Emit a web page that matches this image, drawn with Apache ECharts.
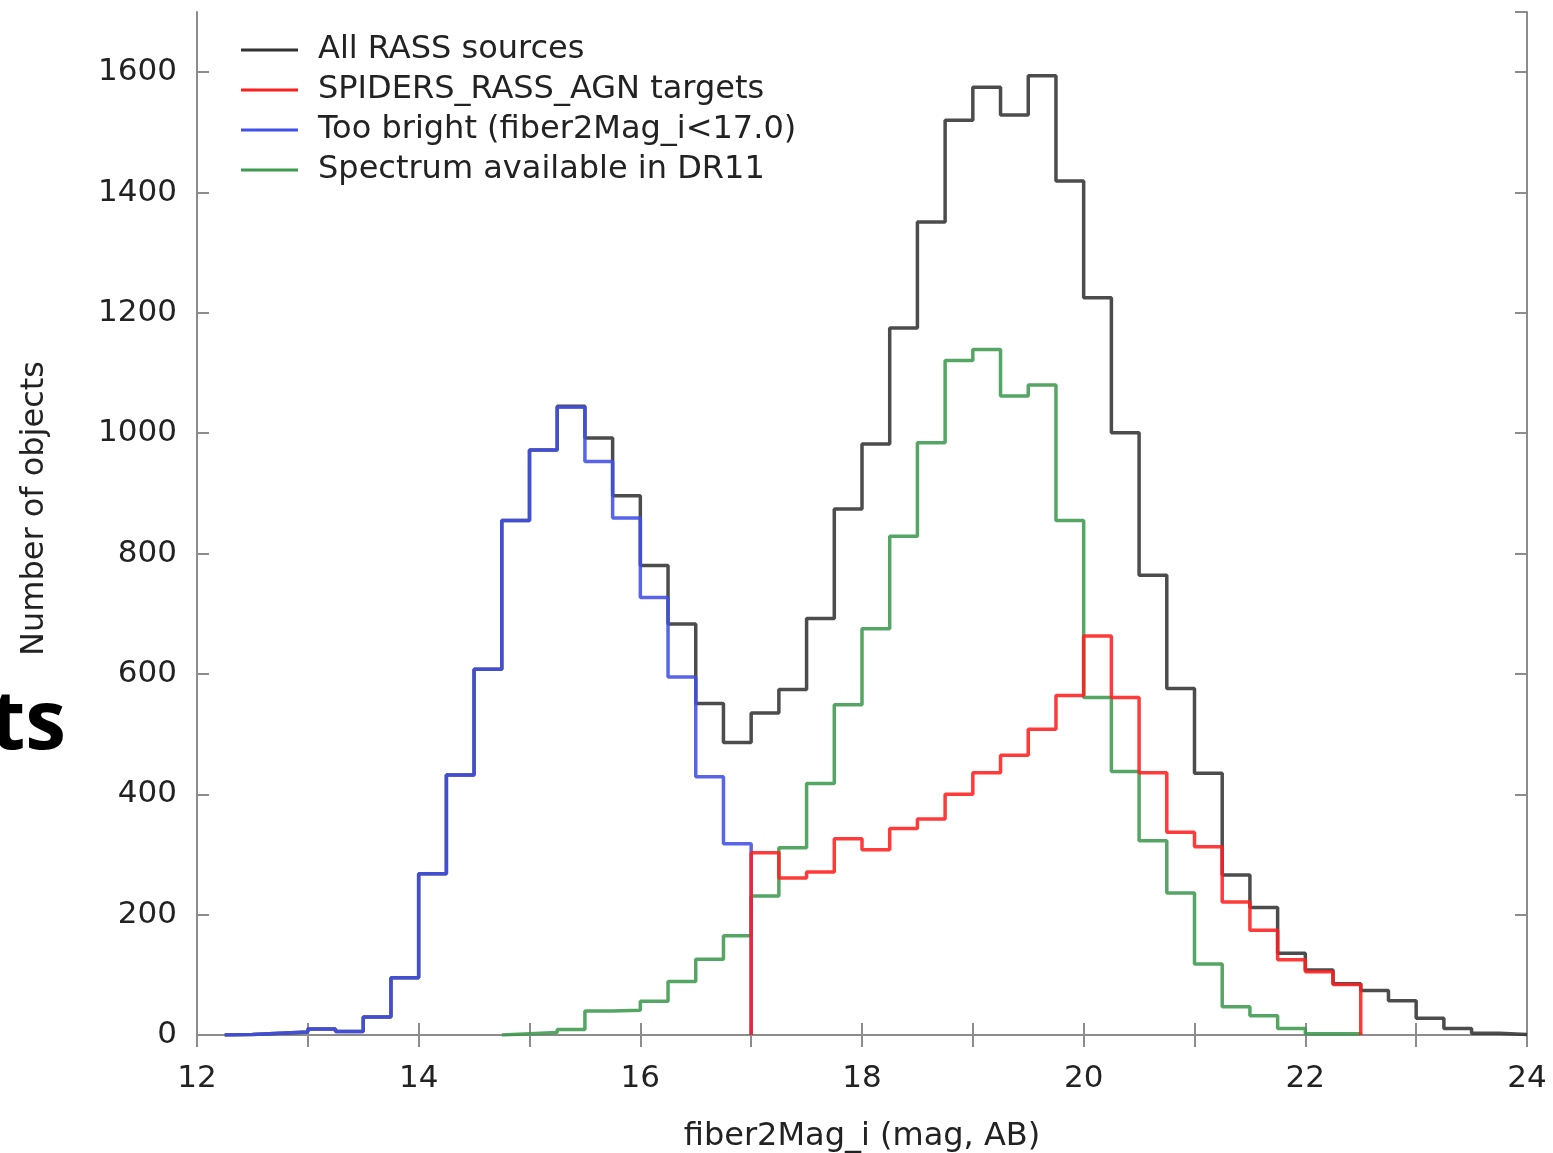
<!DOCTYPE html>
<html>
<head>
<meta charset="utf-8">
<title>fiber2Mag_i histogram</title>
<script src="https://cdn.jsdelivr.net/npm/echarts@6/dist/echarts.min.js"></script>
<style>
  html, body { margin: 0; padding: 0; background: #fff; }
  #chart { width: 1553px; height: 1153px; }
</style>
</head>
<body>
<div id="chart"></div>
<script>
// histogram bins are 0.25 mag wide, counts listed from the left edge given by *Start
const BIN = 0.25;

const allRassStart = 12.25;
const allRass = [1, 3, 5, 10, 6, 30, 95, 268, 432, 608, 855, 972, 1045, 992, 896, 780, 683, 551, 486,
  535, 574, 692, 874, 982, 1175, 1351, 1520, 1575, 1529, 1594, 1419, 1225, 1001, 764, 576, 435, 266,
  212, 136, 108, 85, 74, 57, 28, 11, 3, 1];

const spidersStart = 17.0;
const spiders = [303, 261, 271, 326, 308, 343, 359, 400, 436, 465, 508, 564, 663, 561, 436, 337, 313,
  221, 174, 125, 105, 84];

const tooBrightStart = 12.25;
const tooBright = [1, 3, 5, 10, 6, 30, 95, 268, 432, 608, 855, 972, 1043, 953, 859, 727, 595, 429, 318];

const dr11Start = 14.75;
const dr11 = [2, 4, 9, 40, 41, 56, 89, 126, 165, 231, 311, 418, 549, 675, 829, 984, 1121, 1139, 1062,
  1080, 855, 561, 438, 323, 236, 118, 47, 32, 11, 2, 2];

const seriesNames = [
  'All RASS sources',
  'SPIDERS_RASS_AGN targets',
  'Too bright (fiber2Mag_i<17.0)',
  'Spectrum available in DR11'
];

// bin edges -> points for a step line that starts and ends on zero
function stepPoints(start, counts) {
  const pts = [[start, 0]];
  counts.forEach((c, i) => pts.push([start + i * BIN, c]));
  pts.push([start + counts.length * BIN, 0]);
  return pts;
}

function histSeries(name, start, counts, color, z) {
  return {
    name: name,
    type: 'line',
    step: 'end',
    symbol: 'none',
    data: stepPoints(start, counts),
    itemStyle: { color: color },
    lineStyle: { color: color, width: 3.5, opacity: 0.88 },
    z: z
  };
}

const FONT = 'DejaVu Sans';
const frame = { show: true, lineStyle: { color: '#8c8c8c', width: 2 } };
const ticks = { show: true, inside: true, length: 12, lineStyle: { color: '#8c8c8c', width: 2 } };

const chart = echarts.init(document.getElementById('chart'));
chart.setOption({
  animation: false,
  backgroundColor: '#fff',
  grid: { left: 197, right: 26, top: 12, bottom: 118, outerBoundsMode: 'none' },
  legend: {
    orient: 'vertical',
    left: 236,
    top: 29,
    icon: 'rect',
    itemWidth: 57,
    itemHeight: 3,
    itemGap: 8,
    data: seriesNames,
    textStyle: { fontFamily: FONT, fontSize: 32, color: '#222', lineHeight: 30, padding: [0, 0, 0, 15] }
  },
  xAxis: [{
    type: 'value',
    min: 12, max: 24, interval: 1,
    name: 'fiber2Mag_i (mag, AB)',
    nameLocation: 'middle',
    nameGap: 86,
    nameTextStyle: { fontFamily: FONT, fontSize: 32, color: '#222' },
    axisLine: frame,
    axisTick: ticks,
    splitLine: { show: false },
    axisLabel: {
      margin: 28,
      fontFamily: FONT, fontSize: 31, color: '#222',
      formatter: v => (v % 2 === 0 ? String(v) : '')
    }
  }, {
    type: 'value', position: 'top',
    min: 12, max: 24, interval: 1,
    axisLine: frame, axisTick: ticks,
    axisLabel: { show: false }, splitLine: { show: false }
  }],
  yAxis: [{
    type: 'value',
    min: 0, max: 1700, interval: 200,
    name: 'Number of objects',
    nameLocation: 'middle',
    nameGap: 146,
    nameTextStyle: { fontFamily: FONT, fontSize: 32, color: '#222', padding: [0, 0, 0, 30] },
    axisLine: frame,
    axisTick: ticks,
    splitLine: { show: false },
    axisLabel: {
      margin: 20, fontFamily: FONT, fontSize: 31, color: '#222', showMaxLabel: false,
      formatter: v => String(v)
    }
  }, {
    type: 'value', position: 'right',
    min: 0, max: 1700, interval: 200,
    axisLine: frame, axisTick: ticks,
    axisLabel: { show: false }, splitLine: { show: false }
  }],
  series: [
    histSeries(seriesNames[0], allRassStart, allRass, '#333333', 2),
    histSeries(seriesNames[3], dr11Start, dr11, '#3e9a4e', 3),
    histSeries(seriesNames[2], tooBrightStart, tooBright, '#4150e6', 4),
    histSeries(seriesNames[1], spidersStart, spiders, '#ff1f1f', 5)
  ],
  graphic: [{
    type: 'text',
    x: 66, y: 726,
    style: {
      text: 'ts',
      fill: '#000',
      font: 'bold 82px "Open Sans", "Noto Sans", sans-serif',
      textAlign: 'right',
      textVerticalAlign: 'middle'
    }
  }]
});
</script>
</body>
</html>
